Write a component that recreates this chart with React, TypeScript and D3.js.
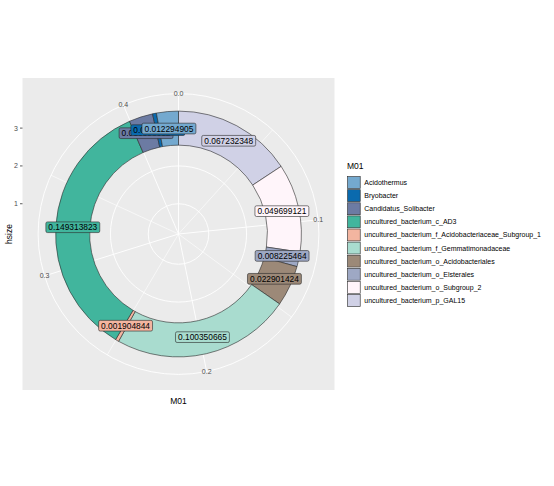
import React, { useEffect, useRef } from 'react';
import * as d3 from 'd3';

// legend order (factor levels)
const taxa = [
  'Acidothermus',
  'Bryobacter',
  'Candidatus_Solibacter',
  'uncultured_bacterium_c_AD3',
  'uncultured_bacterium_f_Acidobacteriaceae_Subgroup_1',
  'uncultured_bacterium_f_Gemmatimonadaceae',
  'uncultured_bacterium_o_Acidobacteriales',
  'uncultured_bacterium_o_Elsterales',
  'uncultured_bacterium_o_Subgroup_2',
  'uncultured_bacterium_p_GAL15',
];
const abundance = [
  0.012294905, 0.002178794, 0.013398612, 0.149313823, 0.001904844,
  0.100350665, 0.022901424, 0.008225464, 0.049699121, 0.067232348,
];
const fills = [
  '#74a9cf', '#0a6aae', '#6c7ba3', '#41b59d', '#f3b5a0',
  '#a9dccf', '#9c8978', '#9ea8c4', '#fff5fa', '#d0d1e6',
];
const hsize = 3;
const thetaMajor = [0, 0.1, 0.2, 0.3, 0.4];
const thetaMinor = [0.05, 0.15, 0.25, 0.35];
const rBreaks = [1, 2, 3];
const rLimits = [0.2, 3.5];

const W = 554;
const H = 486;

const App: React.FC = () => {
  const svgRef = useRef<SVGSVGElement>(null);

  useEffect(() => {
    const svg = d3.select(svgRef.current);
    svg.selectAll('*').remove();

    const font = 'Liberation Sans, Arial, sans-serif';
    const panel = { left: 22.5, top: 78, size: 312 };
    const cx = panel.left + panel.size / 2;
    const cy = panel.top + panel.size / 2;

    const total = d3.sum(abundance);
    const theta = d3.scaleLinear().domain([0, total]).range([0, 2 * Math.PI]);
    const rScale = d3.scaleLinear().domain(rLimits).range([0, 0.4 * panel.size]);
    const outerGrid = 0.45 * panel.size;

    svg.append('rect')
      .attr('x', panel.left).attr('y', panel.top)
      .attr('width', panel.size).attr('height', panel.size)
      .attr('fill', '#ebebeb');

    const g = svg.append('g').attr('transform', `translate(${cx},${cy})`);

    // radial grid circles
    [...rBreaks.map(b => rScale(b)), outerGrid].forEach(r => {
      g.append('circle').attr('r', r)
        .attr('fill', 'none').attr('stroke', '#ffffff').attr('stroke-width', 0.9);
    });

    // theta spokes
    thetaMinor.forEach(b => {
      const a = theta(b);
      g.append('line')
        .attr('x1', 0).attr('y1', 0)
        .attr('x2', outerGrid * Math.sin(a)).attr('y2', -outerGrid * Math.cos(a))
        .attr('stroke', '#ffffff').attr('stroke-width', 0.6);
    });
    thetaMajor.forEach(b => {
      const a = theta(b);
      g.append('line')
        .attr('x1', 0).attr('y1', 0)
        .attr('x2', outerGrid * Math.sin(a)).attr('y2', -outerGrid * Math.cos(a))
        .attr('stroke', '#ffffff').attr('stroke-width', 0.9);
    });

    // stacked from the last level
    const order = d3.range(taxa.length).reverse();
    const segs: { i: number; a0: number; a1: number }[] = [];
    let acc = 0;
    order.forEach(i => {
      segs.push({ i, a0: theta(acc), a1: theta(acc + abundance[i]) });
      acc += abundance[i];
    });

    const arc = d3.arc<any>()
      .innerRadius(rScale(hsize - 0.45))
      .outerRadius(rScale(hsize + 0.45))
      .startAngle(d => d.a0)
      .endAngle(d => d.a1);

    g.selectAll('.seg')
      .data(segs)
      .enter()
      .append('path')
      .attr('class', 'seg')
      .attr('d', arc)
      .attr('fill', d => fills[d.i])
      .attr('stroke', '#2a2a2a')
      .attr('stroke-width', 0.6);

    // labels
    const rl = rScale(hsize);
    segs.forEach(d => {
      const a = (d.a0 + d.a1) / 2;
      const x = rl * Math.sin(a);
      const y = -rl * Math.cos(a);
      const lg = g.append('g').attr('transform', `translate(${x},${y})`);
      const box = lg.append('rect');
      const t = lg.append('text')
        .attr('text-anchor', 'middle')
        .attr('dominant-baseline', 'central')
        .style('font-family', font)
        .style('font-size', '8.4px')
        .attr('fill', '#000')
        .text(String(abundance[d.i]));
      const w = (t.node() as SVGTextElement).getComputedTextLength() + 5;
      const h = 10.7;
      box.attr('x', -w / 2).attr('y', -h / 2)
        .attr('width', w).attr('height', h)
        .attr('rx', 1.6)
        .attr('fill', fills[d.i])
        .attr('stroke', '#2a2a2a')
        .attr('stroke-width', 0.6);
    });

    // theta axis labels
    thetaMajor.forEach(b => {
      const a = theta(b);
      svg.append('text')
        .attr('x', cx + outerGrid * Math.sin(a))
        .attr('y', cy - outerGrid * Math.cos(a))
        .attr('text-anchor', 'middle')
        .attr('dominant-baseline', 'central')
        .style('font-family', font)
        .style('font-size', '7px')
        .attr('fill', '#4d4d4d')
        .text(d3.format('.1f')(b));
    });

    // radial axis on the left
    rBreaks.forEach(b => {
      const y = cy - rScale(b);
      svg.append('line')
        .attr('x1', panel.left - 2.5).attr('x2', panel.left)
        .attr('y1', y).attr('y2', y)
        .attr('stroke', '#333333').attr('stroke-width', 0.8);
      svg.append('text')
        .attr('x', panel.left - 4.5).attr('y', y)
        .attr('text-anchor', 'end')
        .attr('dominant-baseline', 'central')
        .style('font-family', font)
        .style('font-size', '7px')
        .attr('fill', '#4d4d4d')
        .text(b);
    });

    // axis titles
    svg.append('text')
      .attr('x', cx).attr('y', 401)
      .attr('text-anchor', 'middle')
      .attr('dominant-baseline', 'central')
      .style('font-family', font)
      .style('font-size', '8.5px')
      .attr('fill', '#000')
      .text('M01');

    svg.append('text')
      .attr('transform', `translate(9,${cy}) rotate(-90)`)
      .attr('text-anchor', 'middle')
      .attr('dominant-baseline', 'central')
      .style('font-family', font)
      .style('font-size', '8.5px')
      .attr('fill', '#000')
      .text('hsize');

    // legend
    const legend = svg.append('g').attr('transform', 'translate(347,0)');
    legend.append('text')
      .attr('x', 0).attr('y', 166)
      .attr('dominant-baseline', 'central')
      .style('font-family', font)
      .style('font-size', '8.5px')
      .attr('fill', '#000')
      .text('M01');

    const keyH = 13.1;
    const keyTop = 176;
    taxa.forEach((name, i) => {
      const y0 = keyTop + i * keyH;
      legend.append('rect')
        .attr('x', 0).attr('y', y0)
        .attr('width', 13.8).attr('height', keyH)
        .attr('fill', '#f2f2f2');
      legend.append('rect')
        .attr('x', 0.6).attr('y', y0 + 0.6)
        .attr('width', 12.6).attr('height', keyH - 1.2)
        .attr('fill', fills[i])
        .attr('stroke', '#2a2a2a')
        .attr('stroke-width', 0.6);
      legend.append('text')
        .attr('x', 17.3).attr('y', y0 + keyH / 2)
        .attr('dominant-baseline', 'central')
        .style('font-family', font)
        .style('font-size', '7px')
        .attr('fill', '#000')
        .text(name);
    });
  }, []);

  return (
    <div style={{ position: 'absolute', left: 0, top: 0 }}>
      <svg ref={svgRef} width={W} height={H} style={{ display: 'block', background: '#fff' }} />
    </div>
  );
};

export default App;
